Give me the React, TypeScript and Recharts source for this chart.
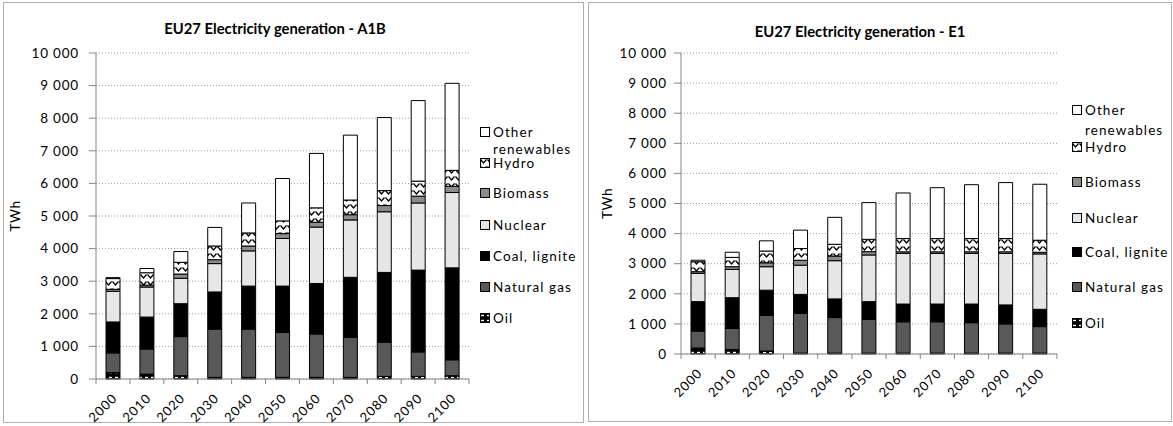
import React from 'react';
import { BarChart, Bar, XAxis, YAxis, CartesianGrid } from 'recharts';

// ---------- data ----------
const years = ['2000', '2010', '2020', '2030', '2040', '2050', '2060', '2070', '2080', '2090', '2100'];

// Scenario A1B (TWh)
const oilA1B = [200, 150, 100, 50, 50, 50, 50, 50, 80, 80, 100];
const gasA1B = [600, 770, 1200, 1480, 1480, 1380, 1330, 1230, 1050, 750, 490];
const coalA1B = [950, 980, 1010, 1140, 1320, 1420, 1550, 1840, 2140, 2510, 2820];
const nuclearA1B = [940, 920, 780, 870, 1080, 1460, 1730, 1760, 1860, 2060, 2310];
const biomassA1B = [60, 60, 130, 120, 150, 150, 150, 160, 190, 210, 190];
const hydroA1B = [330, 380, 360, 420, 400, 390, 440, 450, 460, 460, 490];
const otherA1B = [30, 130, 330, 570, 920, 1300, 1670, 1990, 2240, 2470, 2670];

// Scenario E1 (TWh)
const oilE1 = [200, 150, 100, 30, 30, 30, 30, 30, 30, 30, 30];
const gasE1 = [560, 700, 1180, 1320, 1180, 1120, 1040, 1040, 1010, 970, 880];
const coalE1 = [980, 1020, 840, 630, 620, 590, 590, 590, 620, 630, 575];
const nuclearE1 = [940, 940, 780, 970, 1270, 1550, 1680, 1680, 1680, 1710, 1840];
const biomassE1 = [55, 90, 130, 165, 155, 110, 55, 55, 55, 55, 55];
const hydroE1 = [330, 310, 390, 390, 390, 410, 440, 440, 440, 440, 400];
const otherE1 = [50, 170, 340, 610, 895, 1220, 1515, 1690, 1790, 1860, 1860];

const yTicks = [0, 1000, 2000, 3000, 4000, 5000, 6000, 7000, 8000, 9000, 10000];

const seriesKeys = ['oil', 'gas', 'coal', 'nuclear', 'biomass', 'hydro', 'other'];
const seriesNames = ['Oil', 'Natural gas', 'Coal, lignite', 'Nuclear', 'Biomass', 'Hydro', 'Other renewables'];
const seriesFills = ['url(#oilPat)', '#595959', '#000000', '#e6e6e6', '#8c8c8c', 'url(#hydroPat)', '#ffffff'];

const buildRows = (cols: number[][]) =>
  years.map((y, i) => {
    const row: any = { year: y };
    seriesKeys.forEach((k, j) => (row[k] = cols[j][i]));
    return row;
  });

const dataA1B = buildRows([oilA1B, gasA1B, coalA1B, nuclearA1B, biomassA1B, hydroA1B, otherA1B]);
const dataE1 = buildRows([oilE1, gasE1, coalE1, nuclearE1, biomassE1, hydroE1, otherE1]);

const FONT = 'Lato, "Liberation Sans", sans-serif';
const fmt = (n: number) => String(n).replace(/\B(?=(\d{3})+(?!\d))/g, ' ');

const makeTick = (bw: number, n: number) => (props: any) => {
  const { x, y, payload, index } = props;
  const ax = x + 5;
  const ay = y + 20;
  return (
    <g>
      <line x1={x - bw / 2} y1={y} x2={x - bw / 2} y2={y + 5} stroke="#868686" />
      {index === n - 1 && <line x1={x + bw / 2} y1={y} x2={x + bw / 2} y2={y + 5} stroke="#868686" />}
      <text
        x={ax}
        y={ay}
        transform={`rotate(-45 ${ax} ${ay})`}
        textAnchor="end"
        fontFamily={FONT}
        fontSize={13}
        letterSpacing={0.9}
        fill="#000"
      >
        {payload.value}
      </text>
    </g>
  );
};

type ChartProps = {
  data: any[];
  left: number;
  width: number;
  plotLeft: number;
  plotWidth: number;
  plotTop: number;
  plotBottom: number;
  tickMargin: number;
  labelOffset: number;
};

const Chart = ({ data, left, width, plotLeft, plotWidth, plotTop, plotBottom, tickMargin, labelOffset }: ChartProps) => {
  const height = 426;
  const bw = plotWidth / years.length;
  return (
    <div style={{ position: 'absolute', left, top: 0 }}>
      <BarChart
        width={width}
        height={height}
        data={data}
        margin={{ left: 5, top: plotTop, right: width - plotLeft - plotWidth, bottom: height - plotBottom - 40 }}
        barSize={14}
      >
        <CartesianGrid vertical={false} stroke="#9a9a9a" strokeDasharray="1 2" />
        <XAxis
          dataKey="year"
          interval={0}
          height={40}
          tickLine={false}
          tickSize={0}
          tickMargin={0}
          axisLine={{ stroke: '#868686' }}
          tick={makeTick(bw, years.length)}
        />
        <YAxis
          width={plotLeft - 5}
          domain={[0, 10000]}
          ticks={yTicks}
          interval={0}
          tickFormatter={fmt}
          tickSize={7}
          tickMargin={tickMargin}
          axisLine={{ stroke: '#868686' }}
          tickLine={{ stroke: '#868686' }}
          tick={{ fontFamily: FONT, fontSize: 13.5, fill: '#000', letterSpacing: 0.8 } as any}
          label={{
            value: 'TWh',
            angle: -90,
            position: 'insideLeft',
            offset: labelOffset,
            style: { textAnchor: 'middle', fontFamily: FONT, fontSize: 13.5, fill: '#000', letterSpacing: 0.5 },
          }}
        />
        {seriesKeys.map((k, j) => (
          <Bar
            key={k}
            dataKey={k}
            name={seriesNames[j]}
            stackId="s"
            fill={seriesFills[j]}
            stroke="#000"
            strokeWidth={1}
            isAnimationActive={false}
          />
        ))}
      </BarChart>
    </div>
  );
};

const Legend = ({ x, rows }: { x: number; rows: number[] }) => {
  // rows: centre y of lines: Other, renewables, Hydro, Biomass, Nuclear, Coal, Gas, Oil
  const items = [
    { idx: 6, lines: ['Other', 'renewables'], ys: [rows[0], rows[1]] },
    { idx: 5, lines: ['Hydro'], ys: [rows[2]] },
    { idx: 4, lines: ['Biomass'], ys: [rows[3]] },
    { idx: 3, lines: ['Nuclear'], ys: [rows[4]] },
    { idx: 2, lines: ['Coal, lignite'], ys: [rows[5]] },
    { idx: 1, lines: ['Natural gas'], ys: [rows[6]] },
    { idx: 0, lines: ['Oil'], ys: [rows[7]] },
  ];
  return (
    <>
      {items.map((it) => (
        <React.Fragment key={it.idx}>
          <svg width={10} height={10} style={{ position: 'absolute', left: x, top: it.ys[0] - 5 }}>
            <rect x={0.5} y={0.5} width={9} height={9} fill={seriesFills[it.idx]} stroke="#000" strokeWidth={1} />
          </svg>
          {it.lines.map((t, li) => (
            <div
              key={li}
              style={{
                position: 'absolute',
                left: x + 13,
                top: it.ys[li] - 9,
                lineHeight: '18px',
                fontFamily: FONT,
                fontSize: 13.5,
                letterSpacing: 1.1,
                color: '#000',
                whiteSpace: 'nowrap',
              }}
            >
              {t}
            </div>
          ))}
        </React.Fragment>
      ))}
    </>
  );
};

const Title = ({ cx, cy, text }: { cx: number; cy: number; text: string }) => (
  <div
    style={{
      position: 'absolute',
      left: cx - 200,
      width: 400,
      top: cy - 10,
      lineHeight: '20px',
      textAlign: 'center',
      fontFamily: FONT,
      fontWeight: 700,
      fontSize: 14.8,
      color: '#000',
    }}
  >
    {text}
  </div>
);

export default function App() {
  return (
    <div style={{ position: 'absolute', left: 0, top: 0, width: 1173, height: 426, background: '#fff', overflow: 'hidden' }}>
      <svg width={0} height={0} style={{ position: 'absolute' }}>
        <defs>
          <pattern id="hydroPat" patternUnits="userSpaceOnUse" width={7} height={7}>
            <rect width={7} height={7} fill="#fff" />
            <path d="M0.5,1.5 L3.5,5 L6.5,1.5" stroke="#000" strokeWidth={1.3} fill="none" />
          </pattern>
          <pattern id="oilPat" patternUnits="userSpaceOnUse" width={6} height={5}>
            <rect width={6} height={5} fill="#000" />
            <rect x={1} y={1.8} width={3} height={1.4} fill="#fff" />
          </pattern>
        </defs>
      </svg>

      <div style={{ position: 'absolute', left: 3, top: 2, width: 581, height: 421, border: '1.5px solid #b0b0b0', boxSizing: 'border-box' }} />
      <div style={{ position: 'absolute', left: 588, top: 2, width: 584, height: 420, border: '1.5px solid #b0b0b0', boxSizing: 'border-box' }} />

      <Chart data={dataA1B} left={0} width={584} plotLeft={96} plotWidth={373} plotTop={53} plotBottom={379} tickMargin={10} labelOffset={10} />
      <Chart data={dataE1} left={588} width={585} plotLeft={93} plotWidth={376} plotTop={53} plotBottom={354} tickMargin={7} labelOffset={14} />

      <Title cx={275} cy={28} text="EU27 Electricity generation - A1B" />
      <Title cx={860} cy={31} text="EU27 Electricity generation - E1" />

      <Legend x={480} rows={[132, 149, 163, 193, 225, 256, 287, 318]} />
      <Legend x={1072} rows={[110, 130, 147, 182, 218, 252, 287, 323]} />
    </div>
  );
}
